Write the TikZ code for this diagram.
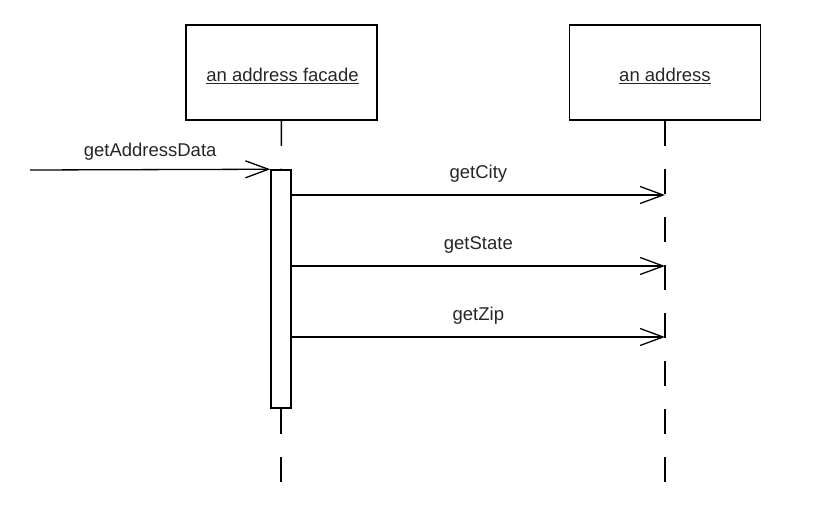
\documentclass[tikz,border=0pt]{standalone}
\usepackage{fontspec}
\setmainfont{Liberation Sans}
\usetikzlibrary{arrows.meta}

\begin{document}
\begin{tikzpicture}[x=1pt,y=-1pt]
    \tikzstyle{object}=[draw,line width=1.5pt,minimum width=191pt,minimum height=95pt,inner sep=0pt]
    \tikzstyle{lifeline}=[line width=1.5pt,dash pattern=on 25pt off 23pt]
    \tikzstyle{activation}=[draw,line width=1.5pt,minimum width=20pt,minimum height=238pt,inner sep=0pt]
    \tikzstyle{msg}=[line width=1.3pt,-{Straight Barb[length=23pt,width=17pt,line width=1.3pt]}]
    \tikzstyle{every node}=[font=\fontsize{18.5}{22}\selectfont,text=black!85]
    \useasboundingbox (0,0) rectangle (814,508);
    \node[object] (facade) at (281.5,72.5) {};
    \node at (282.5,76) {\underline{an address facade}};
    \node[object] (address) at (665,72.5) {};
    \node at (665,76) {\underline{an address}};
    \node[activation] (act) at (281,289) {};
    \coordinate (caller) at (30,170);
    \coordinate (facadeend) at (281,482);
    \coordinate (addressend) at (665,482);
    \coordinate (city) at (665,195);
    \coordinate (state) at (665,266);
    \coordinate (zip) at (665,337);
    % lifelines
    \draw[lifeline] (facade.south) -- (act.north);
    \draw[lifeline] (act.south) -- (facadeend);
    \draw[lifeline] (address.south) -- (addressend);
    % messages
    \draw[msg] (caller) -- (act.north west) node[midway,above=5pt] (getdata) {getAddressData};
    \draw[msg] (act.east |- city) -- (city) node[midway,above=9pt] (getcity) {getCity};
    \draw[msg] (act.east |- state) -- (state) node[midway,above=9pt] (getstate) {getState};
    \draw[msg] (act.east |- zip) -- (zip) node[midway,above=9pt] (getzip) {getZip};
\end{tikzpicture}
\end{document}
